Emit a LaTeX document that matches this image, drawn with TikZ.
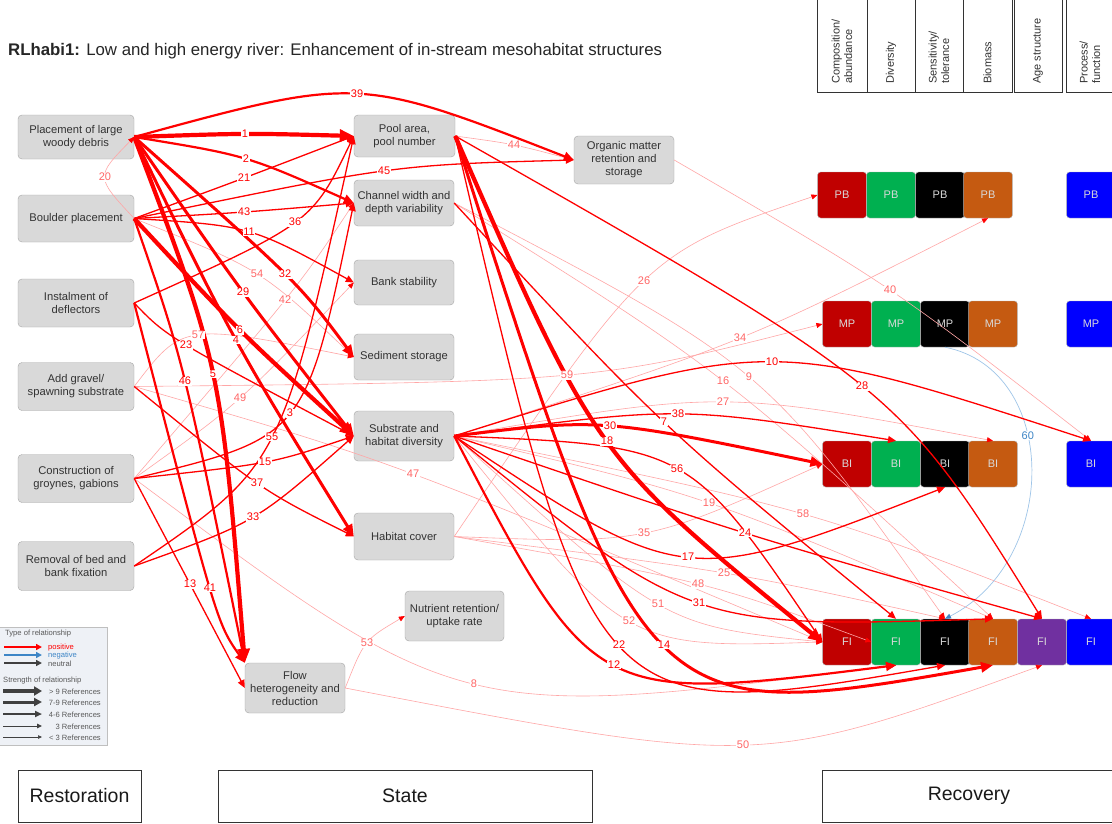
\documentclass[tikz,border=0pt]{standalone}
\usepackage{fontspec}
\setmainfont{Liberation Sans}
\usetikzlibrary{arrows.meta,calc}

\definecolor{nodefill}{HTML}{D9D9D9}
\definecolor{nodeline}{HTML}{A6A6A6}
\definecolor{txt}{HTML}{333333}
\definecolor{cR}{HTML}{C00000}
\definecolor{cG}{HTML}{00B050}
\definecolor{cK}{HTML}{000000}
\definecolor{cO}{HTML}{C55A11}
\definecolor{cP}{HTML}{7030A0}
\definecolor{cB}{HTML}{0000FF}
\definecolor{legfill}{HTML}{EEF1F6}
\definecolor{negblue}{HTML}{3D85C6}
\definecolor{arcblue}{HTML}{9FC5E8}

% one relationship: style, source anchor, point passed at mid-curve (label spot), target anchor, label
\makeatletter
\newcommand\lbllist{}
\newcommand\lnk[5]{%
  \draw[#1] (#2) .. controls ($1.3333*(#3)-0.16667*(#2)-0.16667*(#4)$) .. (#4);%
  \g@addto@macro\lbllist{\node[#1l] (n#5) at (#3) {#5};}%
}
\makeatother

\begin{document}
\begin{tikzpicture}[x=1pt,y=-1pt,
  st/.style={draw=nodeline, fill=nodefill, rounded corners=4pt, align=center,
    text=txt, font=\fontsize{11.2}{13}\selectfont, inner sep=1pt},
  cb/.style={draw=gray!60, rounded corners=3pt, minimum width=48.8pt,
    minimum height=46pt, text=white!85!black, font=\fontsize{11}{13}\selectfont, inner sep=0pt},
  hdr/.style={draw=txt, line width=0.7pt},
  htxt/.style={rotate=90, anchor=west, align=left, text=txt,
    font=\fontsize{11}{12.5}\selectfont, inner sep=0pt},
  band/.style={draw=txt, line width=0.8pt, minimum height=52pt, text=black!90,
    font=\fontsize{19.5}{22}\selectfont, inner sep=0pt},
  w1/.style={draw=red!35, line width=0.6pt, -{Triangle[length=6pt,width=5pt,color=red]}},
  w2/.style={draw=red, line width=1.3pt, -{Triangle[length=8pt,width=7pt]}},
  w3/.style={draw=red, line width=2.2pt, -{Triangle[length=10pt,width=9pt]}},
  w4/.style={draw=red, line width=3pt, -{Triangle[length=12pt,width=10pt]}},
  w5/.style={draw=red, line width=4.2pt, -{Triangle[length=14pt,width=12pt]}},
  lbl/.style={fill=white, inner sep=0.6pt, font=\fontsize{11}{12}\selectfont},
  w1l/.style={lbl, text=red!60},
  w2l/.style={lbl, text=red},
  w3l/.style={lbl, text=red},
  w4l/.style={lbl, text=red},
  w5l/.style={lbl, text=red},
  legt/.style={text=black!65, font=\fontsize{7.6}{8}\selectfont, inner sep=0pt},
]
\useasboundingbox (0,0) rectangle (1112,823);
\clip (0,0) rectangle (1112,823);
\fill[white] (0,0) rectangle (1112,823);

% title
\node[anchor=base west, font=\fontsize{16.8}{19}\selectfont, text=black!85, inner sep=0]
  (title) at (8,55) {\textbf{RLhabi1:} Low and high energy river: Enhancement of in-stream mesohabitat structures};

% recovery header columns
\draw[hdr] (817,-3) rectangle (867,92);
\draw[hdr] (867,-3) rectangle (915,92);
\draw[hdr] (915,-3) rectangle (963,92);
\draw[hdr] (963,-3) rectangle (1012,92);
\draw[hdr] (1014,-3) rectangle (1062,92);
\draw[hdr] (1066,-3) rectangle (1116,92);
\node[htxt] (hc) at (842,84) {Composition/\\abundance};
\node[htxt] (hd) at (891,84) {Diversity};
\node[htxt] (hs) at (939,84) {Sensitivity/\\tolerance};
\node[htxt] (hb) at (987.5,84) {Biomass};
\node[htxt] (ha) at (1038,84) {Age structure};
\node[htxt] (hp) at (1090,84) {Process/\\function};

% restoration measures
\node[st, minimum width=116pt, minimum height=44pt] (lwd) at (76,137) {Placement of large\\woody debris};
\node[st, minimum width=116pt, minimum height=47pt] (bou) at (76,218.5) {Boulder placement};
\node[st, minimum width=116pt, minimum height=48pt] (dfl) at (76,303) {Instalment of\\deflectors};
\node[st, minimum width=116pt, minimum height=48pt] (grv) at (76,386.5) {Add gravel/\\spawning substrate};
\node[st, minimum width=116pt, minimum height=48pt] (gro) at (76,478.5) {Construction of\\groynes, gabions};
\node[st, minimum width=116pt, minimum height=49pt] (rem) at (76,566) {Removal of bed and\\bank fixation};

% state variables
\node[st, minimum width=101pt, minimum height=42pt] (poo) at (404.5,136) {Pool area,\\pool number};
\node[st, minimum width=100pt, minimum height=46pt] (chw) at (404,203) {Channel width and\\depth variability};
\node[st, minimum width=100pt, minimum height=45pt] (bnk) at (404,282.5) {Bank stability};
\node[st, minimum width=100pt, minimum height=46pt] (sed) at (404,357) {Sediment storage};
\node[st, minimum width=100pt, minimum height=50pt] (sub) at (404,436) {Substrate and\\habitat diversity};
\node[st, minimum width=100pt, minimum height=47pt] (hab) at (404,536.5) {Habitat cover};
\node[st, minimum width=99pt, minimum height=50pt] (nut) at (454.5,616) {Nutrient retention/\\uptake rate};
\node[st, minimum width=100pt, minimum height=50pt] (flw) at (295,688) {Flow\\heterogeneity and\\reduction};
\node[st, minimum width=100pt, minimum height=48pt] (org) at (624,160) {Organic matter\\retention and\\storage};

% recovery: phytobenthos, macrophytes, benthic invertebrates, fish
\node[cb, fill=cR] (pbR) at (842,195) {PB};
\node[cb, fill=cG] (pbG) at (891,195) {PB};
\node[cb, fill=cK] (pbK) at (940,195) {PB};
\node[cb, fill=cO] (pbO) at (988,195) {PB};
\node[cb, fill=cB] (pbB) at (1091,195) {PB};

\node[cb, fill=cR] (mpR) at (847,324) {MP};
\node[cb, fill=cG] (mpG) at (896,324) {MP};
\node[cb, fill=cK] (mpK) at (945,324) {MP};
\node[cb, fill=cO] (mpO) at (993,324) {MP};
\node[cb, fill=cB] (mpB) at (1091,324) {MP};

\node[cb, fill=cR] (biR) at (847,464) {BI};
\node[cb, fill=cG] (biG) at (896,464) {BI};
\node[cb, fill=cK] (biK) at (945,464) {BI};
\node[cb, fill=cO] (biO) at (993,464) {BI};
\node[cb, fill=cB] (biB) at (1091,464) {BI};

\node[cb, fill=cR] (fiR) at (847,642) {FI};
\node[cb, fill=cG] (fiG) at (896,642) {FI};
\node[cb, fill=cK] (fiK) at (945,642) {FI};
\node[cb, fill=cO] (fiO) at (993,642) {FI};
\node[cb, fill=cP] (fiP) at (1042,642) {FI};
\node[cb, fill=cB] (fiB) at (1091,642) {FI};

% relationships with fewer than 3 references
\lnk{w1}{bou.east}{105,177}{lwd.east}{20}
\lnk{w1}{bou.east}{257,274}{sed.west}{54}
\lnk{w1}{gro.east}{285,300}{chw.west}{42}
\lnk{w1}{gro.east}{240,398}{bnk.west}{49}
\lnk{w1}{grv.east}{198,335}{sed.west}{57}
\lnk{w1}{grv.east}{567,375}{mpR.west}{59}
\lnk{w1}{grv.east}{413,474}{fiR.west}{47}
\lnk{w1}{gro.east}{474,684}{fiG.south}{8}
\lnk{w1}{flw.east}{367,643}{nut.west}{53}
\lnk{w1}{flw.east}{743,745}{fiP.south}{50}
\lnk{w1}{poo.east}{514,145}{org.west}{44}
\lnk{w1}{chw.east}{749,377}{fiK.north}{9}
\lnk{w1}{chw.east}{723,381}{fiO.north}{16}
\lnk{w1}{org.east}{890,290}{biB.north}{40}
\lnk{w1}{sub.east}{723,402}{biO.north}{27}
\lnk{w1}{sub.east}{709,503}{fiO.north}{19}
\lnk{w1}{sub.east}{803,514}{fiB.north}{58}
\lnk{w1}{sub.east}{658,604}{fiR.west}{51}
\lnk{w1}{sub.east}{629,621}{fiR.west}{52}
\lnk{w1}{sub.east}{740,338}{pbO.south}{34}
\lnk{w1}{hab.east}{644,281}{pbR.west}{26}
\lnk{w1}{hab.east}{644,533}{biR.west}{35}
\lnk{w1}{hab.east}{724,573}{fiK.north}{25}
\lnk{w1}{hab.east}{698,584}{fiG.west}{48}

% the one negative relationship
\draw[draw=arcblue, line width=0.7pt, -{Triangle[length=6pt,width=5pt,color=negblue]}]
  (mpK.south) .. controls (1060,370) and (1060,560) .. (fiK.north)
  node[pos=0.4, fill=white, inner sep=0.6pt, text=negblue, font=\fontsize{11}{12}\selectfont] (n60) {60};

% 3 references
\lnk{w2}{bou.east}{244,178}{poo.west}{21}
\lnk{w2}{bou.east}{244,212}{chw.west}{43}
\lnk{w2}{bou.east}{384,171}{org.west}{45}
\lnk{w2}{bou.east}{249,232}{bnk.west}{11}
\lnk{w2}{gro.east}{190,584}{flw.west}{13}
\lnk{w2}{dfl.east}{295,222}{poo.west}{36}
\lnk{w2}{dfl.east}{186,345}{sub.west}{23}
\lnk{w2}{grv.east}{257,483}{hab.west}{37}
\lnk{w2}{gro.east}{265,462}{sub.west}{15}
\lnk{w2}{rem.east}{272,437}{poo.west}{55}
\lnk{w2}{gro.east}{290,413}{chw.west}{3}
\lnk{w2}{rem.east}{253,517}{sub.west}{33}
\lnk{w2}{poo.east}{619,645}{fiK.south}{22}
\lnk{w2}{poo.east}{862,386}{fiP.north}{28}
\lnk{w2}{chw.east}{664,422}{fiG.north}{7}
\lnk{w2}{sub.east}{772,362}{biB.north}{10}
\lnk{w2}{sub.east}{678,414}{biG.north}{38}
\lnk{w2}{sub.east}{677,469}{fiR.west}{56}
\lnk{w2}{sub.east}{745,533}{fiP.north}{24}
\lnk{w2}{sub.east}{688,557}{biK.south}{17}
\lnk{w2}{sub.east}{699,603}{fiO.north}{31}

% 4-6 references
\lnk{w3}{lwd.east}{246,159}{chw.west}{2}
\lnk{w3}{lwd.east}{357,94}{org.west}{39}
\lnk{w3}{bou.east}{185,381}{flw.north west}{46}
\lnk{w3}{dfl.east}{210,588}{flw.north west}{41}
\lnk{w3}{sub.east}{614,665}{fiG.south}{12}

% 7-9 references
\lnk{w4}{lwd.east}{285,274}{sed.west}{32}
\lnk{w4}{lwd.east}{243,292}{sub.west}{29}
\lnk{w4}{lwd.east}{236,340}{hab.west}{4}
\lnk{w4}{poo.east}{664,645}{fiO.south}{14}
\lnk{w4}{sub.east}{610,426}{biR.west}{30}

% more than 9 references
\lnk{w5}{lwd.east}{245,134}{poo.west}{1}
\lnk{w5}{bou.east}{240,330}{sub.west}{6}
\lnk{w5}{lwd.east}{213,374}{flw.north west}{5}
\lnk{w5}{poo.east}{607,441}{fiR.west}{18}

% relationship numbers on top of all lines
\lbllist

% legend
\node[draw=gray!50, fill=legfill, minimum width=108pt, minimum height=118pt,
  anchor=north west, inner sep=0] (leg) at (-1,627) {};
\node[legt, anchor=west] (lg1) at (5,634) {Type of relationship};
\draw[red, line width=1.6pt, -{Triangle[length=6pt,width=6pt]}] (4,647) -- (42,647);
\node[legt, anchor=west, text=red] (lgp) at (48,647.5) {positive};
\draw[negblue, line width=1.6pt, -{Triangle[length=6pt,width=6pt]}] (4,655) -- (42,655);
\node[legt, anchor=west, text=negblue] (lgn) at (48,655.5) {negative};
\draw[black!75, line width=1.6pt, -{Triangle[length=6pt,width=6pt]}] (4,663) -- (42,663);
\node[legt, anchor=west] (lgu) at (48,663.5) {neutral};
\node[legt, anchor=west] (lg2) at (3,681) {Strength of relationship};
\draw[black!75, line width=4pt, -{Triangle[length=8pt,width=9pt]}] (3,691) -- (42,691);
\node[legt, anchor=east] (ls1) at (101,691.5) {> 9 References};
\draw[black!75, line width=3pt, -{Triangle[length=8pt,width=8pt]}] (3,702) -- (42,702);
\node[legt, anchor=east] (ls2) at (101,702.5) {7-9 References};
\draw[black!75, line width=2pt, -{Triangle[length=7pt,width=6pt]}] (3,714) -- (42,714);
\node[legt, anchor=east] (ls3) at (101,714.5) {4-6 References};
\draw[black!75, line width=1pt, -{Triangle[length=5pt,width=4.5pt]}] (3,726) -- (42,726);
\node[legt, anchor=east] (ls4) at (101,726.5) {3 References};
\draw[black!75, line width=0.6pt, -{Triangle[length=4pt,width=3.5pt]}] (3,737) -- (42,737);
\node[legt, anchor=east] (ls5) at (101,737.5) {< 3 References};

% bands
\node[band, minimum width=123pt] (brest) at (79.5,796) {Restoration};
\node[band, minimum width=374pt] (bstate) at (405,796) {State};
\node[band, minimum width=294pt] (brec) at (969,796) {Recovery};
\end{tikzpicture}
\end{document}
